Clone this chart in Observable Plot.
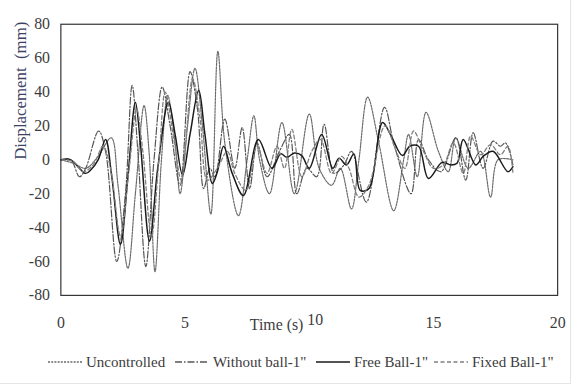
<!DOCTYPE html>
<html>
<head>
<meta charset="utf-8">
<script src="https://cdn.jsdelivr.net/npm/d3@7"></script>
<script src="https://cdn.jsdelivr.net/npm/@observablehq/plot@0.6"></script>
<style>
  body { margin: 0; background: #fff; }
  #wrap { position: relative; width: 570px; height: 383px; border-right: 1px solid #e4e4e4; border-bottom: 1px solid #e4e4e4; font-family: "Liberation Serif", "Times New Roman", serif; overflow: hidden; }
  #chart svg { display: block; }
  .item { position: absolute; top: 352px; height: 20px; display: flex; align-items: center; font-size: 15px; color: #3c3c3c; white-space: nowrap; }
  .item svg { margin-right: 4px; }
</style>
</head>
<body>
<div id="wrap">
  <div id="chart"></div>
  <div id="legend"></div>
</div>
<script>
// Displacement histories (time in s, displacement in mm), read at turning points
const uncontrolled = [
  [0,0],[0.5,-2],[1.0,-5],[1.5,2],[2.03,13],[2.3,-15],[2.7,-64],[3.0,-20],[3.35,32],[3.55,5],
  [3.79,-66],[4.05,0],[4.3,38],[4.6,10],[4.8,-20],[5.1,20],[5.4,54],[5.7,20],[6.04,-32],[6.32,64],
  [6.6,10],[7.15,-33],[7.5,0],[7.77,26],[8.0,0],[8.4,-20],[8.9,22],[9.4,-20],[10.0,27],[10.4,-5],
  [10.9,-15],[11.25,-5],[11.7,-29],[12.0,0],[12.35,37],[12.8,10],[13.4,-30],[13.8,0],[14.0,15],[14.35,-10],
  [14.7,28],[15.2,5],[15.6,-7],[15.9,13],[16.4,-5],[16.9,5],[17.3,-22],[17.6,0],[18.2,0]
];
const withoutBall = [
  [0,0],[0.4,0],[0.75,-10],[1.0,-5],[1.52,17],[1.8,5],[2.25,-60],[2.6,-20],[2.87,44],[3.1,5],
  [3.42,-63],[3.75,0],[4.08,43],[4.4,20],[4.8,-15],[5.2,52],[5.5,30],[5.75,-17],[6.0,-5],[6.2,-10],
  [6.6,24],[7.0,-5],[7.3,19],[7.6,-17],[7.9,10],[8.3,-10],[8.8,5],[9.2,15],[9.5,-20],[9.9,-5],
  [10.3,-10],[10.6,21],[11.0,-8],[11.4,-3],[11.7,5],[12.3,-25],[13.03,31],[13.4,10],[14.1,-20],[14.4,12],
  [14.8,0],[15.3,-7],[15.9,13],[16.3,-12],[16.6,16],[17.0,-5],[17.4,11],[17.7,8],[17.9,10],[18.2,-3]
];
const freeBall = [
  [0,0],[0.3,0.5],[0.5,-1],[0.75,-5],[1.0,-8],[1.2,-6],[1.5,0],[1.8,12],[2.05,-10],[2.4,-50],
  [2.7,-10],[3.0,34],[3.2,10],[3.57,-48],[3.9,-5],[4.33,34],[4.6,15],[4.9,-9],[5.2,15],[5.55,41],
  [5.8,15],[6.1,-14],[6.3,-7],[6.55,8],[6.9,-8],[7.35,-21],[7.95,12],[8.5,-5],[8.85,3.5],[9.1,1.5],
  [9.4,4],[9.7,2.5],[10.0,-5],[10.5,15],[10.95,-5],[11.2,1],[11.5,-3],[11.8,3.5],[12.05,-18],[12.4,-17],
  [12.95,22],[13.3,14],[13.75,2.5],[14.05,8],[14.4,8],[14.8,-11],[15.35,-1.5],[15.7,-3],[15.95,-2],[16.2,12],
  [16.7,-3],[17.0,2],[17.4,5],[18.0,-7],[18.2,-4]
];
const fixedBall = [
  [0,0],[0.5,-1],[0.9,-7],[1.3,-3],[1.7,8],[2.0,-5],[2.4,-45],[2.75,-5],[3.05,30],[3.3,5],
  [3.65,-45],[3.95,0],[4.2,40],[4.55,12],[4.85,-12],[5.3,48],[5.6,25],[5.9,-12],[6.3,-5],[6.7,5],
  [7.0,-8],[7.45,-18],[7.9,8],[8.3,-8],[8.7,8],[9.0,-5],[9.3,18],[9.7,-10],[10.1,5],[10.45,12],
  [10.9,-8],[11.3,2],[11.6,-5],[12.0,-22],[12.4,-15],[13.05,20],[13.5,5],[13.85,-5],[14.2,17],[14.6,5],
  [15.0,-5],[15.4,-3],[15.8,10],[16.2,-8],[16.5,14],[16.9,3],[17.3,9],[17.7,3],[18.0,8],[18.2,-8]
];

// Legend entries and their stroke styles
const seriesNames = ["Uncontrolled", "Without ball-1\"", "Free Ball-1\"", "Fixed Ball-1\""];
const seriesData = [uncontrolled, withoutBall, freeBall, fixedBall];
const seriesDash = ["2,1.2", "7,2,1.5,2", null, "4,2.5"];
const seriesColor = ["#6a6a6a", "#555", "#1a1a1a", "#808080"];
const seriesWidth = [1.2, 1.2, 1.5, 1.3];

const xTicks = [0, 5, 10, 15, 20];
const yTicks = [-80, -60, -40, -20, 0, 20, 40, 60, 80];

const lineMarks = seriesData.map((d, i) => Plot.line(d, {
  x: p => p[0], y: p => p[1],
  curve: "catmull-rom",
  stroke: seriesColor[i],
  strokeWidth: seriesWidth[i],
  strokeDasharray: seriesDash[i] || undefined
}));

// plain hyphen for negative tick values
const plainNumber = d => String(d);
const tickStyle = { tickSize: 0, tickPadding: 22, fontSize: 16, label: null, tickFormat: plainNumber };

const chart = Plot.plot({
  width: 576,
  height: 345,
  marginTop: 24,
  marginBottom: 47,
  marginLeft: 61,
  marginRight: 13,
  style: { fontFamily: "'Liberation Serif', 'Times New Roman', serif", fontSize: "16px", color: "#3c3c3c", background: "transparent" },
  x: { domain: [0, 20], label: null },
  y: { domain: [-80, 80], label: null },
  marks: [
    ...lineMarks,
    Plot.frame({ stroke: "#333", strokeWidth: 1.2 }),
    // the "10" label sits a little right of its tick, clear of the axis title
    Plot.axisX({ ...tickStyle, ticks: xTicks.filter(t => t !== 10) }),
    Plot.axisX({ ...tickStyle, ticks: [10], dx: 6, dy: -3 }),
    Plot.axisY({ ticks: yTicks, tickSize: 0, tickPadding: 11, fontSize: 16, label: null, tickFormat: plainNumber }),
    Plot.text(["Time (s)"], { frameAnchor: "bottom", dx: -33, dy: 35, fontSize: 16, fill: "#3c3c3c" }),
    Plot.text(["Displacement  (mm)"], { frameAnchor: "left", dx: -41, rotate: -90, fontSize: 17, fill: "#3b4264", letterSpacing: "1px" })
  ]
});
document.getElementById("chart").appendChild(chart);

// Legend row beneath the plot
const legendX = [48, 175, 316, 434];
const legend = document.getElementById("legend");
seriesNames.forEach((name, i) => {
  const item = document.createElement("div");
  item.className = "item";
  item.style.left = legendX[i] + "px";
  const sw = d3.create("svg").attr("width", 34).attr("height", 10);
  sw.append("line").attr("x1", 0).attr("x2", 34).attr("y1", 5).attr("y2", 5)
    .attr("stroke", seriesColor[i]).attr("stroke-width", seriesWidth[i] + 0.2)
    .attr("stroke-dasharray", seriesDash[i]);
  item.appendChild(sw.node());
  const label = document.createElement("span");
  label.textContent = name;
  item.appendChild(label);
  legend.appendChild(item);
});
</script>
</body>
</html>
